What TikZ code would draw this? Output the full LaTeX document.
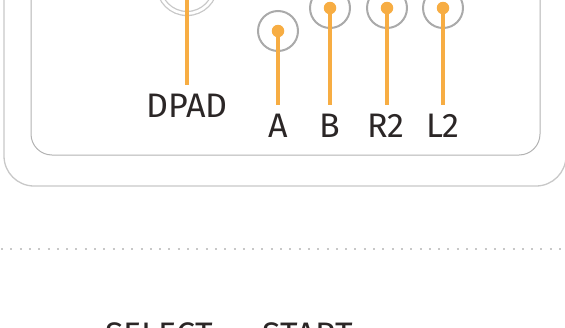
\documentclass[tikz,border=0pt]{standalone}
\usepackage{fontspec}
\setmainfont{Fira Sans}
\usetikzlibrary{positioning}

\definecolor{leadorange}{RGB}{247,173,67}
\definecolor{ringgray}{RGB}{170,170,170}
\definecolor{framegray}{RGB}{200,200,200}
\definecolor{labelink}{RGB}{43,38,38}

\begin{document}
\begin{tikzpicture}[
    x=1pt, y=-1pt,
    ring/.style={draw=ringgray, circle, line width=2pt, minimum size=40pt, inner sep=0pt},
    dpadring/.style={draw=framegray, circle, line width=1.3pt, double=white, double distance=2.7pt, minimum size=57pt, inner sep=0pt},
    dot/.style={fill=leadorange, circle, minimum size=12.5pt, inner sep=0pt},
    lead/.style={draw=leadorange, line width=3.3pt, shorten >=8pt},
    btnlabel/.style={anchor=base, inner sep=0pt, text=labelink, font=\fontsize{34}{34}\selectfont},
    frame/.style={draw=framegray, line width=1.3pt},
    sepline/.style={draw=framegray, line width=2pt, dash pattern=on 2pt off 7.3pt}
]
\useasboundingbox (0,0) rectangle (565,327);
\clip (0,0) rectangle (565,327);

% Controller body
\draw[frame, rounded corners=30pt] (4,-100) rectangle (566,186);
\draw[frame, draw=ringgray!90, line width=1pt, rounded corners=21pt] (31,-100) rectangle (540,155);

% Buttons
\node[dpadring] (dpad) at (187,-15) {};
\node[ring] (a) at (278,31) {};
\node[ring] (b) at (330,8) {};
\node[ring] (r2) at (387,8) {};
\node[ring] (l2) at (443,8) {};

% Labels
\node[btnlabel] (dpadlab) at (187,117) {DPAD};
\node[btnlabel] (alab) at (278,137) {A};
\node[btnlabel] (blab) at (330,137) {B};
\node[btnlabel] (r2lab) at (386,137) {R2};
\node[btnlabel] (l2lab) at (443,137) {L2};

% Leads
\draw[lead] (dpad.center) -- (dpad.center |- dpadlab.north);
\draw[lead] (a.center) -- (a.center |- alab.north);
\draw[lead] (b.center) -- (b.center |- blab.north);
\draw[lead] (r2.center) -- (r2.center |- r2lab.north);
\draw[lead] (l2.center) -- (l2.center |- l2lab.north);

\node[dot] (adot) at (a) {};
\node[dot] (bdot) at (b) {};
\node[dot] (r2dot) at (r2) {};
\node[dot] (l2dot) at (l2) {};

% Separator
\coordinate (sepL) at (1,249);
\coordinate (sepR) at (566,249);
\draw[sepline] (sepL) -- (sepR);

% Lower buttons
\node[btnlabel] (selectlab) at (159,346) {SELECT};
\node[btnlabel] (startlab) at (308,346) {START};

\end{tikzpicture}
\end{document}
